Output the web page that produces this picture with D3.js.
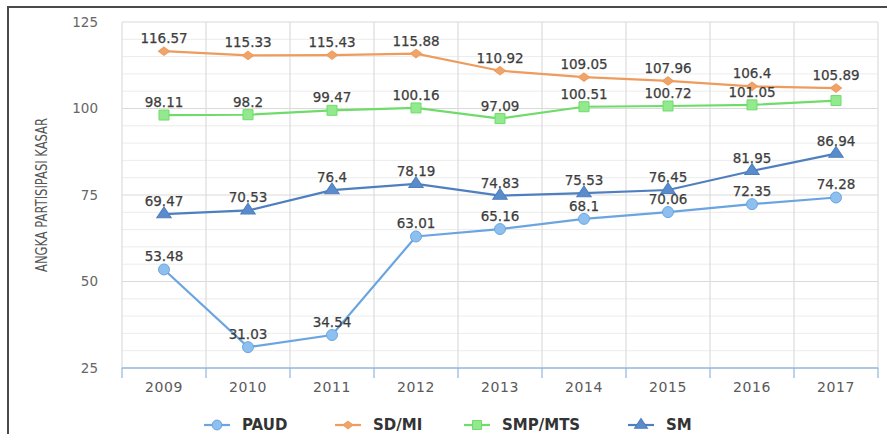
<!DOCTYPE html>
<html>
<head>
<meta charset="utf-8">
<script src="https://cdn.jsdelivr.net/npm/d3@7"></script>
<style>
  html, body { margin: 0; padding: 0; background: #fff; }
  svg { display: block; font-family: "DejaVu Sans", sans-serif; }
</style>
</head>
<body>
<svg id="chart" width="887" height="434"></svg>
<script>
const years = ["2009", "2010", "2011", "2012", "2013", "2014", "2015", "2016", "2017"];
const paud = [53.48, 31.03, 34.54, 63.01, 65.16, 68.1, 70.06, 72.35, 74.28];
const sdmi = [116.57, 115.33, 115.43, 115.88, 110.92, 109.05, 107.96, 106.4, 105.89];
const smpmts = [98.11, 98.2, 99.47, 100.16, 97.09, 100.51, 100.72, 101.05, 102.3];
const smpLabels = [true, true, true, true, true, true, true, true, false];
const sm = [69.47, 70.53, 76.4, 78.19, 74.83, 75.53, 76.45, 81.95, 86.94];
const yTicks = [25, 50, 75, 100, 125];
const seriesNames = ["PAUD", "SD/MI", "SMP/MTS", "SM"];
const yTitle = "ANGKA PARTISIPASI KASAR";

const series = [
  { name: seriesNames[0], values: paud, labels: paud.map(() => true), line: "#6ba5e0", fill: "#8dc0ee", shape: d3.symbolCircle, size: 95, sx: 1, sy: 1 },
  { name: seriesNames[1], values: sdmi, labels: sdmi.map(() => true), line: "#ee9c5e", fill: "#f0a468", shape: d3.symbolDiamond2, size: 50, sx: 1.25, sy: 0.95 },
  { name: seriesNames[2], values: smpmts, labels: smpLabels, line: "#6fdc6a", fill: "#93e98d", shape: d3.symbolSquare, size: 100, sx: 1, sy: 1 },
  { name: seriesNames[3], values: sm, labels: sm.map(() => true), line: "#4f7fbf", fill: "#5a8ccc", shape: d3.symbolTriangle, size: 75, sx: 1.1, sy: 0.95 }
];

const svg = d3.select("#chart");
const pLeft = 122, pRight = 878, pTop = 22, pBottom = 368;

// outer frame
svg.append("rect").attr("x", 8).attr("y", 7).attr("width", 900).attr("height", 460)
  .attr("fill", "none").attr("stroke", "#4a4a4a").attr("stroke-width", 2);

const x = d3.scaleBand().domain(years).range([pLeft, pRight]).padding(0);
const y = d3.scaleLinear().domain([25, 125]).range([pBottom, pTop]);

// gridlines
const g = svg.append("g");
g.selectAll(".minor").data(d3.range(30, 125, 5).filter(v => v % 25 !== 0)).join("line")
  .attr("x1", pLeft).attr("x2", pRight).attr("y1", d => y(d)).attr("y2", d => y(d))
  .attr("stroke", "#ececec").attr("stroke-width", 1);
g.selectAll(".major").data(yTicks.slice(1)).join("line")
  .attr("x1", pLeft).attr("x2", pRight).attr("y1", d => y(d)).attr("y2", d => y(d))
  .attr("stroke", "#dadada").attr("stroke-width", 1.2);
const bounds = years.map(d => x(d)).concat([pRight]);
g.selectAll(".vg").data(bounds).join("line")
  .attr("x1", d => d).attr("x2", d => d).attr("y1", pTop).attr("y2", pBottom)
  .attr("stroke", "#dcdcdc").attr("stroke-width", 1.2);

// x axis
const xAxis = svg.append("g").attr("transform", `translate(0,${pBottom})`);
xAxis.append("line").attr("x1", pLeft).attr("x2", pRight).attr("y1", 0).attr("y2", 0)
  .attr("stroke", "#93b4dc").attr("stroke-width", 1.5);
xAxis.selectAll(".tk").data(bounds).join("line")
  .attr("x1", d => d).attr("x2", d => d).attr("y1", 0).attr("y2", 10)
  .attr("stroke", "#93b4dc").attr("stroke-width", 1.2);
xAxis.selectAll("text").data(years).join("text")
  .attr("x", d => x(d) + x.bandwidth() / 2).attr("y", 24)
  .attr("text-anchor", "middle").attr("font-size", 14).attr("letter-spacing", 0.6)
  .attr("fill", "#5a5a5a").text(d => d);

// y axis labels
svg.append("g").selectAll("text").data(yTicks).join("text")
  .attr("x", 98).attr("y", d => y(d)).attr("dy", "0.36em")
  .attr("text-anchor", "end").attr("font-size", 13.5).attr("fill", "#666").text(d => d);

// y title
svg.append("text").attr("transform", "translate(47,195) rotate(-90)")
  .attr("text-anchor", "middle").attr("font-size", 15).attr("fill", "#555")
  .attr("textLength", 154).attr("lengthAdjust", "spacingAndGlyphs").text(yTitle);

// lines
const cx = i => x(years[i]) + x.bandwidth() / 2;
const lineGen = d3.line().x((d, i) => cx(i)).y(d => y(d));
series.forEach(s => {
  svg.append("path").datum(s.values).attr("d", lineGen)
    .attr("fill", "none").attr("stroke", s.line).attr("stroke-width", 2.2);
});
series.forEach(s => {
  svg.append("g").selectAll("path").data(s.values).join("path")
    .attr("transform", (d, i) => `translate(${cx(i)},${y(d)}) scale(${s.sx},${s.sy})`)
    .attr("d", d3.symbol().type(s.shape).size(s.size))
    .attr("fill", s.fill).attr("stroke", s.line).attr("stroke-width", 1);
});
// data labels
series.forEach(s => {
  svg.append("g").selectAll("text").data(s.values.map((v, i) => ({ v, i })).filter(d => s.labels[d.i])).join("text")
    .attr("x", d => cx(d.i)).attr("y", d => y(d.v) - 8)
    .attr("text-anchor", "middle").attr("font-size", 13.5).attr("fill", "#3d3d3d")
    .attr("stroke", "#3d3d3d").attr("stroke-width", 0.25)
    .text(d => d.v);
});

// legend
const legendX = [217, 348, 477, 641];
const legend = svg.append("g");
series.forEach((s, i) => {
  const lg = legend.append("g").attr("transform", `translate(${legendX[i]},425)`);
  lg.append("line").attr("x1", -13).attr("x2", 13).attr("stroke", s.line).attr("stroke-width", 2.2);
  lg.append("path").attr("transform", `scale(${s.sx},${s.sy})`)
    .attr("d", d3.symbol().type(s.shape).size(s.size * 0.8))
    .attr("fill", s.fill).attr("stroke", s.line).attr("stroke-width", 1);
  lg.append("text").attr("x", 25).attr("dy", "0.36em").attr("font-size", 15)
    .attr("font-weight", "bold").attr("fill", "#333").text(s.name);
});
</script>
</body>
</html>
